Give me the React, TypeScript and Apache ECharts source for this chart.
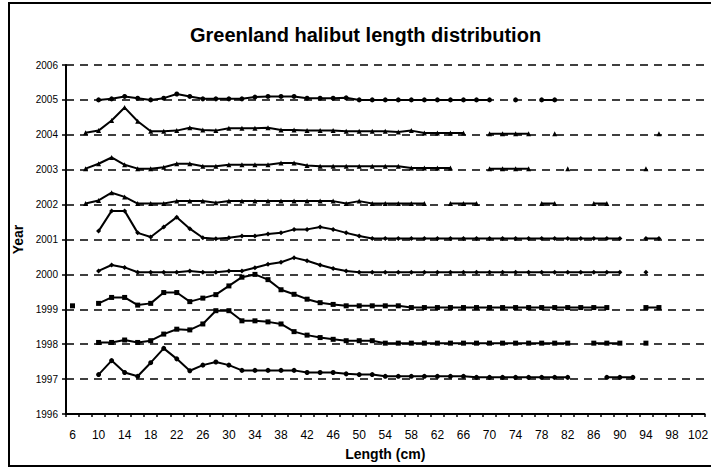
import React, { useEffect, useRef } from "react";
import * as echarts from "echarts";

const lengths = [
  "6", "8", "10", "12", "14", "16", "18", "20", "22", "24",
  "26", "28", "30", "32", "34", "36", "38", "40", "42", "44",
  "46", "48", "50", "52", "54", "56", "58", "60", "62", "64",
  "66", "68", "70", "72", "74", "76", "78", "80", "82", "84",
  "86", "88", "90", "92", "94", "96", "98", "100", "102",
];

const years = [1997, 1998, 1999, 2000, 2001, 2002, 2003, 2004, 2005];
const yearTicks = [1996, 1997, 1998, 1999, 2000, 2001, 2002, 2003, 2004, 2005, 2006];

const n = null;
// relative frequency per length class, plotted as an offset above each year's line
const y1997 = [
  n, n, 0.13, 0.53, 0.19, 0.08, 0.47, 0.88, 0.58, 0.24,
  0.4, 0.49, 0.4, 0.25, 0.25, 0.25, 0.25, 0.25, 0.19, 0.19,
  0.19, 0.15, 0.13, 0.13, 0.08, 0.08, 0.08, 0.08, 0.08, 0.08,
  0.08, 0.05, 0.05, 0.05, 0.05, 0.05, 0.05, 0.05, 0.05, n,
  n, 0.05, 0.05, 0.05, n, n, n, n, n,
];
const y1998 = [
  n, n, 0.05, 0.05, 0.12, 0.05, 0.1, 0.29, 0.43, 0.41,
  0.58, 0.96, 0.96, 0.67, 0.67, 0.64, 0.58, 0.36, 0.26, 0.19,
  0.14, 0.1, 0.1, 0.1, 0.03, 0.03, 0.03, 0.03, 0.03, 0.03,
  0.03, 0.03, 0.03, 0.03, 0.03, 0.03, 0.03, 0.03, 0.03, n,
  0.03, 0.03, 0.03, n, 0.03, n, n, n, n,
];
const y1999 = [
  0.1, n, 0.17, 0.34, 0.34, 0.12, 0.17, 0.48, 0.48, 0.22,
  0.32, 0.42, 0.67, 0.92, 1.0, 0.85, 0.56, 0.43, 0.29, 0.19,
  0.14, 0.1, 0.1, 0.1, 0.1, 0.1, 0.05, 0.05, 0.05, 0.05,
  0.05, 0.05, 0.05, 0.05, 0.05, 0.05, 0.05, 0.05, 0.05, 0.05,
  0.05, 0.05, n, n, 0.05, 0.05, n, n, n,
];
const y2000 = [
  n, n, 0.1, 0.27, 0.2, 0.06, 0.06, 0.06, 0.06, 0.1,
  0.06, 0.06, 0.1, 0.1, 0.19, 0.29, 0.35, 0.48, 0.39, 0.27,
  0.17, 0.1, 0.06, 0.06, 0.06, 0.06, 0.06, 0.06, 0.06, 0.06,
  0.06, 0.06, 0.06, 0.06, 0.06, 0.06, 0.06, 0.06, 0.06, 0.06,
  0.06, 0.06, 0.06, n, 0.06, n, n, n, n,
];
const y2001 = [
  n, n, 0.24, 0.82, 0.82, 0.19, 0.07, 0.36, 0.64, 0.31,
  0.05, 0.02, 0.05, 0.1, 0.1, 0.16, 0.19, 0.29, 0.29, 0.36,
  0.29, 0.19, 0.1, 0.03, 0.03, 0.03, 0.03, 0.03, 0.03, 0.03,
  0.03, 0.03, 0.03, 0.03, 0.03, 0.03, 0.03, 0.03, 0.03, 0.03,
  0.03, 0.03, 0.03, n, 0.03, 0.03, n, n, n,
];
const y2002 = [
  n, 0.03, 0.12, 0.34, 0.22, 0.03, 0.03, 0.03, 0.1, 0.1,
  0.1, 0.05, 0.1, 0.1, 0.1, 0.1, 0.1, 0.1, 0.1, 0.1,
  0.1, 0.03, 0.1, 0.03, 0.03, 0.03, 0.03, 0.03, n, 0.03,
  0.03, 0.03, n, n, n, n, 0.03, 0.03, n, n,
  0.03, 0.03, n, n, n, n, n, n, n,
];
const y2003 = [
  n, 0.03, 0.17, 0.35, 0.14, 0.03, 0.03, 0.07, 0.17, 0.17,
  0.1, 0.1, 0.14, 0.14, 0.14, 0.14, 0.19, 0.19, 0.12, 0.1,
  0.1, 0.1, 0.1, 0.1, 0.1, 0.1, 0.05, 0.05, 0.05, 0.05,
  n, n, 0.03, 0.03, 0.03, 0.03, n, n, 0.03, n,
  n, n, n, n, 0.03, n, n, n, n,
];
const y2004 = [
  n, 0.06, 0.12, 0.41, 0.78, 0.39, 0.1, 0.1, 0.12, 0.2,
  0.14, 0.12, 0.19, 0.19, 0.19, 0.2, 0.14, 0.14, 0.12, 0.12,
  0.12, 0.1, 0.1, 0.1, 0.1, 0.08, 0.12, 0.05, 0.05, 0.05,
  0.05, n, 0.03, 0.03, 0.03, 0.03, n, 0.03, n, n,
  n, n, n, n, n, 0.03, n, n, n,
];
const y2005 = [
  n, n, 0.0, 0.03, 0.1, 0.05, 0.0, 0.05, 0.17, 0.1,
  0.03, 0.03, 0.03, 0.03, 0.08, 0.1, 0.1, 0.1, 0.05, 0.05,
  0.05, 0.06, 0.0, 0.0, 0.0, 0.0, 0.0, 0.0, 0.0, 0.0,
  0.0, 0.0, 0.0, n, 0.0, n, 0.0, 0.0, n, n,
  n, n, n, n, n, n, n, n, n,
];

const offsets = [y1997, y1998, y1999, y2000, y2001, y2002, y2003, y2004, y2005];
const symbols = ["circle", "rect", "rect", "diamond", "diamond", "triangle", "triangle", "triangle", "circle"];

const FONT = "'Liberation Sans', Arial, sans-serif";

export default function App() {
  const ref = useRef<HTMLDivElement>(null);
  useEffect(() => {
    if (!ref.current) return;
    const chart = echarts.init(ref.current, null, { renderer: "svg" });
    const series = years.map((yr, i) => ({
      name: String(yr),
      type: "line",
      data: offsets[i].map((v) => (v === null ? null : +(yr + v).toFixed(3))),
      connectNulls: false,
      symbol: symbols[i],
      symbolSize: 5,
      showSymbol: true,
      showAllSymbol: true,
      lineStyle: { color: "#000", width: 2 },
      itemStyle: { color: "#000" },
      emphasis: { disabled: true },
      z: 3,
    }));
    chart.setOption({
      animation: false,
      backgroundColor: "#fff",
      title: {
        text: "Greenland halibut length distribution",
        left: 190,
        top: 25,
        padding: 0,
        textStyle: { fontSize: 20, fontWeight: "bold", fontFamily: FONT, color: "#000" },
      },
      grid: { left: 66, right: 1, top: 65, bottom: 53 },
      xAxis: {
        type: "category",
        data: lengths,
        boundaryGap: true,
        name: "Length (cm)",
        nameLocation: "middle",
        nameGap: 33,
        nameTextStyle: { fontSize: 14, fontWeight: "bold", fontFamily: FONT, color: "#000" },
        axisLine: { lineStyle: { color: "#000", width: 2 } },
        axisTick: { show: true, interval: 0, length: 3, lineStyle: { color: "#000", width: 1.5 } },
        axisLabel: { interval: 1, fontSize: 12, fontFamily: FONT, color: "#000", margin: 15 },
        splitLine: { show: false },
      },
      yAxis: {
        type: "value",
        min: yearTicks[0],
        max: yearTicks[yearTicks.length - 1],
        interval: 1,
        name: "Year",
        nameLocation: "middle",
        nameGap: 28,
        nameRotate: 90,
        nameTextStyle: { fontSize: 14, fontWeight: "bold", fontFamily: FONT, color: "#000" },
        axisLine: { show: true, lineStyle: { color: "#000", width: 2 } },
        axisTick: { show: true, length: 4, lineStyle: { color: "#000", width: 1.5 } },
        axisLabel: {
          fontSize: 10,
          fontFamily: FONT,
          color: "#000",
          margin: 8,
          formatter: (v: number) => String(Math.round(v)),
        },
        splitLine: { show: true, lineStyle: { color: "#000", width: 1.5, type: [8, 6] } },
      },
      graphic: [
        {
          type: "rect",
          shape: { x: 9, y: 3, width: 710, height: 463 },
          style: { fill: "none", stroke: "#000", lineWidth: 2 },
          silent: true,
        },
      ],
      series,
    });
    return () => chart.dispose();
  }, []);
  return (
    <div
      ref={ref}
      style={{ position: "fixed", left: 0, top: 0, width: 711, height: 467, background: "#fff" }}
    />
  );
}
